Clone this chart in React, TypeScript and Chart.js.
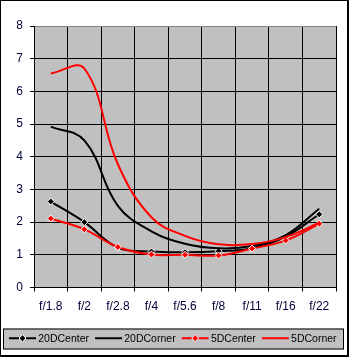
import React, { useEffect, useRef } from 'react';
import { Chart, registerables } from 'chart.js';

Chart.register(...registerables);

const labels = ['f/1.8', 'f/2', 'f/2.8', 'f/4', 'f/5.6', 'f/8', 'f/11', 'f/16', 'f/22'];
const center20 = [2.63, 2.0, 1.22, 1.1, 1.08, 1.11, 1.2, 1.56, 2.24];
const corner20 = [4.92, 4.5, 2.5, 1.72, 1.34, 1.2, 1.27, 1.6, 2.41];
const center5 = [2.11, 1.78, 1.24, 1.01, 1.0, 0.98, 1.19, 1.44, 1.95];
const corner5 = [6.55, 6.7, 3.77, 2.15, 1.58, 1.32, 1.33, 1.54, 1.98];
const yMin = 0;
const yMax = 8;
const yStep = 1;

const FONT = "'Liberation Sans', Arial, sans-serif";
const TICK_COLOR = '#00003a';

function legendGlyph(color: string, marker: boolean): HTMLCanvasElement {
  const c = document.createElement('canvas');
  c.width = 33;
  c.height = 11;
  const g = c.getContext('2d')!;
  g.strokeStyle = color;
  g.lineWidth = 2;
  g.beginPath();
  g.moveTo(5, 5);
  g.lineTo(32, 5);
  g.stroke();
  if (marker) {
    const cx = 18.5, cy = 5, r = 3.5;
    g.beginPath();
    g.moveTo(cx, cy - r);
    g.lineTo(cx + r, cy);
    g.lineTo(cx, cy + r);
    g.lineTo(cx - r, cy);
    g.closePath();
    g.fillStyle = color;
    g.fill();
    g.strokeStyle = '#fff';
    g.lineWidth = 1;
    g.stroke();
  }
  return c;
}

const framePlugin = {
  id: 'excelFrame',
  beforeDraw(chart: any) {
    const { ctx, chartArea: a, width, height } = chart;
    ctx.save();
    ctx.fillStyle = '#ffffff';
    ctx.fillRect(0, 0, width, height);
    ctx.fillStyle = '#c0c0c0';
    ctx.fillRect(a.left, a.top, a.right - a.left, a.bottom - a.top);
    const lg = chart.legend;
    if (lg) {
      const h = 21;
      ctx.fillStyle = '#c0c0c0';
      ctx.fillRect(lg.left, lg.top, lg.right - lg.left, h);
      ctx.strokeStyle = '#000';
      ctx.lineWidth = 1;
      ctx.strokeRect(lg.left + 0.5, lg.top + 0.5, lg.right - lg.left - 1, h - 1);
    }
    ctx.fillStyle = '#000';
    ctx.fillRect(0, 0, width - 2, 1);
    ctx.fillRect(0, 0, 1, height - 1);
    ctx.fillRect(width - 4, 0, 2, height - 1);
    ctx.fillRect(0, height - 3, width - 2, 2);
    ctx.restore();
  },
};

export default function App() {
  const ref = useRef<HTMLCanvasElement | null>(null);

  useEffect(() => {
    document.body.style.margin = '0';
    if (!ref.current) return;
    const mk = (label: string, data: number[], color: string, marker: boolean, order: number) => ({
      label,
      data,
      borderColor: color,
      backgroundColor: color,
      borderWidth: 2,
      pointStyle: 'rectRot',
      pointRadius: marker ? 3.5 : 0,
      pointBackgroundColor: color,
      pointBorderColor: '#ffffff',
      pointBorderWidth: 1,
      tension: 0.4,
      fill: false,
      order,
      _marker: marker,
    });
    const datasets = [
      mk('20DCenter', center20, '#000000', true, 4),
      mk('20DCorner', corner20, '#000000', false, 3),
      mk('5DCenter', center5, '#ff0000', true, 2),
      mk('5DCorner', corner5, '#ff0000', false, 1),
    ];
    const chart = new Chart(ref.current, {
      type: 'line',
      data: { labels, datasets: datasets as any },
      plugins: [framePlugin],
      options: {
        animation: false,
        responsive: false,
        devicePixelRatio: 1,
        layout: { padding: { left: 3, right: 7, top: 26, bottom: 4 } },
        plugins: {
          tooltip: { enabled: false },
          legend: {
            position: 'bottom',
            align: 'start',
            labels: {
              usePointStyle: true,
              pointStyleWidth: 25,
              padding: 5,
              color: '#000',
              font: { family: FONT, size: 10.5 },
              generateLabels: (c: any) =>
                c.data.datasets.map((d: any, i: number) => ({
                  text: d.label,
                  pointStyle: legendGlyph(d.borderColor, d._marker),
                  fillStyle: d.borderColor,
                  strokeStyle: d.borderColor,
                  lineWidth: 0,
                  hidden: false,
                  datasetIndex: i,
                })),
            },
          },
        },
        scales: {
          x: {
            offset: true,
            grid: {
              offset: true,
              color: (ctx: any) => (ctx.index === labels.length ? '#808080' : '#000000'),
              tickColor: '#000000',
              tickLength: 4,
              lineWidth: 1,
            },
            border: { color: '#000000', width: 1 },
            ticks: { color: TICK_COLOR, padding: 8, font: { family: FONT, size: 12 }, maxRotation: 0, autoSkip: false },
            afterFit: (s: any) => { s.height = 41; },
          },
          y: {
            min: yMin,
            max: yMax,
            ticks: { stepSize: yStep, color: TICK_COLOR, padding: 7, font: { family: FONT, size: 12 } },
            grid: {
              color: (ctx: any) => (ctx.tick && ctx.tick.value === yMax ? '#808080' : '#000000'),
              tickColor: '#000000',
              tickLength: 4,
              lineWidth: 1,
            },
            border: { color: '#000000', width: 1 },
            afterFit: (s: any) => { s.width = 31; },
          },
          y2: {
            position: 'right',
            display: true,
            grid: { display: false },
            border: { display: false },
            ticks: { display: false },
            afterFit: (s: any) => { s.width = 8; },
          },
        },
      } as any,
    });
    return () => chart.destroy();
  }, []);

  return (
    <div style={{ width: 351, height: 358 }}>
      <canvas ref={ref} width={351} height={358} style={{ display: 'block' }} />
    </div>
  );
}
